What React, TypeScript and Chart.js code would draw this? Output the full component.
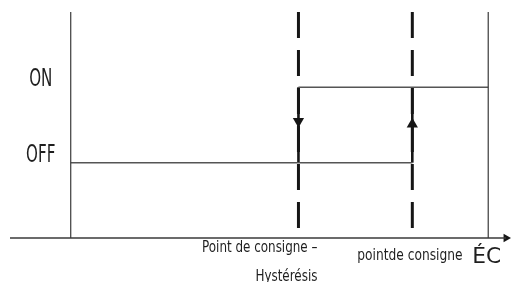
import React, { useEffect, useRef } from "react";
import { Chart, registerables } from "chart.js";

Chart.register(...registerables);

// Abstract positions (x: temperature axis, y: state)
const X_MIN = -1.6;
const X_MAX = 11.6;
const Y_MIN = 0;
const Y_MAX = 3;

const originX = 0; // vertical axis position
const setpointMinusHyst = 6; // "Point de consigne – Hystérésis"
const setpoint = 9; // "pointde consigne"
const xLimit = 11; // right boundary
const axisArrowX = 11.47;

const stateOff = 1;
const stateOn = 2;
const arrowDownY = 1.55;
const arrowUpY = 1.51;

const stateLabels = ["OFF", "ON"];
const stateValues = [stateOff, stateOn];

const lowerLabelLine1 = "Point de consigne –";
const lowerLabelLine2 = "Hystérésis";
const setpointLabel = "pointde consigne";
const axisLabel = "ÉC";

const FONT = "'DejaVu Sans Condensed', 'Liberation Sans', sans-serif";

function drawCondensed(
  ctx: CanvasRenderingContext2D,
  text: string,
  x: number,
  y: number,
  size: number,
  sx: number,
  align: CanvasTextAlign
) {
  ctx.save();
  ctx.translate(x, y);
  ctx.scale(sx, 1);
  ctx.font = `${size}px ${FONT}`;
  ctx.textAlign = align;
  ctx.textBaseline = "alphabetic";
  ctx.fillStyle = "#1e1e1e";
  ctx.fillText(text, 0, 0);
  ctx.restore();
}

const labelsPlugin = {
  id: "hystLabels",
  afterDatasetsDraw(chart: any) {
    const ctx = chart.ctx as CanvasRenderingContext2D;
    const xs = chart.scales.x;
    const ys = chart.scales.y;
    const axisPx = xs.getPixelForValue(originX);
    stateLabels.forEach((lab, i) => {
      const py = ys.getPixelForValue(stateValues[i]);
      drawCondensed(ctx, lab, axisPx - 30, py - 1, 24, 0.7, "center");
    });
    const baseY = ys.getPixelForValue(Y_MIN);
    const hx = xs.getPixelForValue(setpointMinusHyst);
    drawCondensed(ctx, lowerLabelLine1, hx + 19, baseY + 14, 16, 0.83, "right");
    drawCondensed(ctx, lowerLabelLine2, hx + 19, baseY + 43, 16, 0.83, "right");
    const sx = xs.getPixelForValue(setpoint);
    drawCondensed(ctx, setpointLabel, sx - 55, baseY + 22, 16, 0.85, "left");
    drawCondensed(ctx, axisLabel, sx + 60, baseY + 25, 21, 1.15, "left");
  },
};

const seg = (x1: number, y1: number, x2: number, y2: number) => [
  { x: x1, y: y1 },
  { x: x2, y: y2 },
];

export default function App() {
  const ref = useRef<HTMLCanvasElement | null>(null);
  useEffect(() => {
    if (!ref.current) return;
    const thin = "#3a3a3a";
    const state = "#555555";
    const dark = "#161616";
    const lineDs = (data: any[], color: string, width: number, dash: number[] = []) => ({
      data,
      showLine: true,
      borderColor: color,
      borderWidth: width,
      borderDash: dash,
      pointRadius: 0,
      fill: false,
      clip: false as any,
    });
    const chart = new Chart(ref.current, {
      type: "scatter",
      data: {
        datasets: [
          lineDs(seg(X_MIN, Y_MIN, axisArrowX, Y_MIN), thin, 1.3),
          lineDs(seg(originX, Y_MIN, originX, Y_MAX), thin, 1.2),
          lineDs(seg(xLimit, Y_MIN, xLimit, Y_MAX), thin, 1.2),
          lineDs(seg(setpointMinusHyst, Y_MAX, setpointMinusHyst, Y_MIN), dark, 3, [26, 12]),
          lineDs(seg(setpoint, Y_MAX, setpoint, Y_MIN), dark, 3, [26, 12]),
          lineDs(seg(originX, stateOff, setpoint, stateOff), state, 1.5),
          lineDs(seg(setpointMinusHyst, stateOn, xLimit, stateOn), state, 1.5),
          lineDs(seg(setpointMinusHyst, stateOn, setpointMinusHyst, stateOff), dark, 2.6),
          lineDs(seg(setpoint, stateOff, setpoint, stateOn), dark, 2.6),
          {
            data: [{ x: setpointMinusHyst, y: arrowDownY }],
            pointStyle: "triangle",
            rotation: 180,
            pointRadius: 6.5,
            backgroundColor: dark,
            borderColor: dark,
            borderWidth: 0,
            clip: false as any,
          },
          {
            data: [{ x: setpoint, y: arrowUpY }],
            pointStyle: "triangle",
            rotation: 0,
            pointRadius: 6.5,
            backgroundColor: dark,
            borderColor: dark,
            borderWidth: 0,
            clip: false as any,
          },
          {
            data: [{ x: axisArrowX, y: Y_MIN }],
            pointStyle: "triangle",
            rotation: 90,
            pointRadius: 5,
            backgroundColor: dark,
            borderColor: dark,
            borderWidth: 0,
            clip: false as any,
          },
        ],
      },
      options: {
        animation: false,
        responsive: false,
        maintainAspectRatio: false,
        events: [],
        layout: { autoPadding: false, padding: { left: 10, right: 0, top: 12, bottom: 44 } },
        plugins: { legend: { display: false }, tooltip: { enabled: false } },
        scales: {
          x: { type: "linear", min: X_MIN, max: X_MAX, display: false },
          y: { type: "linear", min: Y_MIN, max: Y_MAX, display: false },
        },
      },
      plugins: [labelsPlugin],
    });
    return () => chart.destroy();
  }, []);
  return (
    <div style={{ position: "absolute", left: 0, top: 0, width: 511, height: 282, background: "#fff" }}>
      <canvas ref={ref} width={511} height={282} style={{ display: "block" }} />
    </div>
  );
}
